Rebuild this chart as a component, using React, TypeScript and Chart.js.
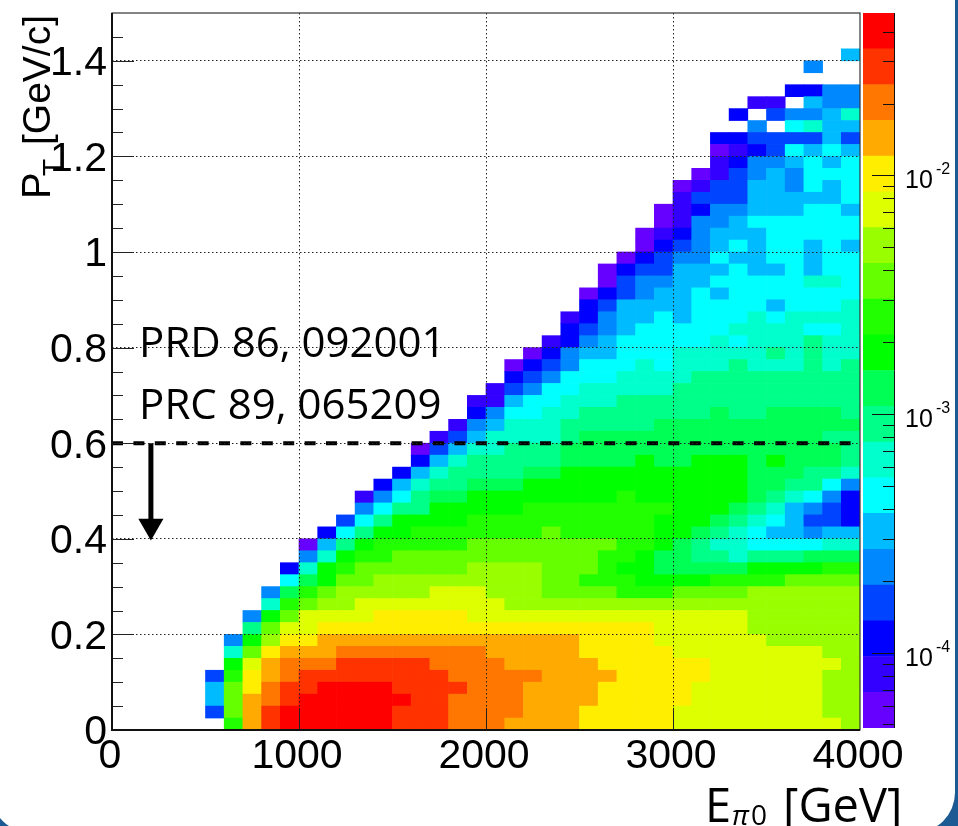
import React, { useEffect, useRef } from "react";
import { Chart, registerables } from "chart.js";

Chart.register(...registerables);

// Energy bins (GeV, lower edge), 100 GeV wide
const energyBins: number[] = [
  0, 100, 200, 300, 400, 500, 600, 700, 800, 900, 1000, 1100, 1200, 1300, 1400, 1500, 1600, 1700, 1800, 1900,
  2000, 2100, 2200, 2300, 2400, 2500, 2600, 2700, 2800, 2900, 3000, 3100, 3200, 3300, 3400, 3500, 3600, 3700, 3800, 3900,
];
const energyBinWidth = 100;
const ptBinWidth = 0.025;

// Contour level per cell: a (lowest) .. t (highest), "." = empty. First row is PT = 0.
const cellRows: string[] = [
  "......lqst tttttsssrr rqqqqppppp ooooooooon",
  ".....dmqst tttttsssrr rrqqqppppp oooooooonn",
  ".....fmqrs ttttttssrr rrqqqqpppp pooooooonn",
  ".....fmprs sttttssssr rrqqqqpppp pooooooonn",
  ".....dlpqr ssssssssrr rrrqqqqppp ppoooooonn",
  "......koqr rrsssssrrr rqqqqqpppp ppooooooon",
  "......hmpq qqrrrrrrrr qqqqqppppp oooooooonn",
  "......eknp pqqqqqqqqq qqqqqppppo ooooonnnnn",
  ".......imo oppppppppp pppppppppo oooonnnnnn",
  ".......ekm oooopppppo oooooooooo oooonnnnnn",
  "........hl mnnooooooo onnnnnnnnn nnnnnnnnnn",
  "........ej lmnnnnnooo nnnmmmmlll mmmmnnnnnn",
  ".........g jkmmnnnnnn nnnmmlllkk kkllllmmmm",
  ".........c hklmmmmmmn nnnmmmlkkj jjjjkkkkll",
  ".......... ehkllmmmmm mmmmmmllkj jiihiiijjj",
  ".......... afiklllllm mmmmmmmllk jihhgggghh",
  ".......... .cgikkllll lllmlllllk kjihgffeff",
  ".......... ..dgikkkkl lllllllllk kkjihgfddc",
  ".......... ...egiikkk kkllllllll kkkjihfedc",
  ".......... ...begijjk kkkkkkklkk kkkkjihgec",
  ".......... ....cfhiij jjkkkkkkkk kkkkjjiige",
  ".......... .....cfhii iijjkkkkkk kkkkjjjiih",
  ".......... ......cfhi iiiijjjjkj jkkkjkjjji",
  ".......... ......adfh hiiijjjjjj jjjjjjjjji",
  ".......... .......bdf hhhhijjjjj jjjjjjjjii",
  ".......... ........be fhhhiiiiij jjjjjjjjjj",
  ".......... .........c egghhiiiii iijiijjjji",
  ".......... .........b bfgghhhiii iiiiiiiiii",
  ".......... .......... bdegghhhhh iiiiiiiiii",
  ".......... .......... .cdeggghhh hiiiiiiiii",
  ".......... .......... .acdeggghg hhhihhhihi",
  ".......... .......... ..aceffggg hhhhhihihh",
  ".......... .......... ...bcefggg gghghhhihh",
  ".......... .......... ....cdefgg ggghhhhggh",
  ".......... .......... ....bceffg fggghghhhh",
  ".......... .......... .....cdfff fggggfgggh",
  ".......... .......... .....acdef fgfggggggg",
  ".......... .......... ......adee ffggggghhg",
  ".......... .......... ......acdd fffgffgfgg",
  ".......... .......... .......acd eegffggfgg",
  ".......... .......... ........ac defgfggfgf",
  ".......... .......... ........ab cefffggggg",
  ".......... .......... .........a beefgggggg",
  ".......... .......... .........a bceefffggf",
  ".......... .......... .......... bdddfffffg",
  ".......... .......... .......... abddffegfg",
  ".......... .......... .......... .abdefeggg",
  ".......... .......... .......... ..bceefgfg",
  ".......... .......... .......... ..abcdgfgf",
  ".......... .......... .......... ..ccddddfd",
  ".......... .......... .......... ....e.ghff",
  ".......... .......... .......... ...c.deefh",
  ".......... .......... .......... ....bb.fee",
  ".......... .......... .......... ......ccee",
  ".......... .......... .......... ..........",
  ".......... .......... .......... .......e..",
  ".......... .......... .......... .........f",
  ".......... .......... .......... ..........",
  ".......... .......... .......... ..........",
  ".......... .......... .......... ..........",
];

const levelKeys = "abcdefghijklmnopqrst";
const levelColors: string[] = [
  "#6600ff", "#3300ff", "#0000ff", "#0044ff", "#0088ff", "#00bbff", "#00ffff", "#00ffcc", "#00ff88", "#00ff55",
  "#00ff00", "#22ff00", "#66ff00", "#99ff00", "#ddff00", "#ffee00", "#ffaa00", "#ff7700", "#ff3300", "#ff0000",
];
const levelEdges: number[] = [
  4.83e-5, 6.82e-5, 9.63e-5, 1.36e-4, 1.92e-4, 2.71e-4, 3.83e-4, 5.4e-4, 7.63e-4, 1.077e-3, 1.521e-3,
  2.147e-3, 3.03e-3, 4.28e-3, 6.04e-3, 8.53e-3, 1.204e-2, 1.7e-2, 2.4e-2, 3.39e-2, 4.79e-2,
];

const yMinorTicks: number[] = [
  0.05, 0.1, 0.15, 0.25, 0.3, 0.35, 0.45, 0.5, 0.55, 0.65, 0.7, 0.75, 0.85, 0.9, 0.95, 1.05, 1.1, 1.15, 1.25, 1.3, 1.35, 1.45,
];
const yMajorTicks: number[] = [0.2, 0.4, 0.6, 0.8, 1, 1.2, 1.4];
const xMajorTicks: number[] = [1000, 2000, 3000];

const paletteMajorTicks: number[] = [1e-2, 1e-3, 1e-4];
const paletteExponents: string[] = ["-2", "-3", "-4"];
const paletteMinorTicks: number[] = [
  4e-2, 3e-2, 2e-2, 9e-3, 8e-3, 7e-3, 6e-3, 5e-3, 4e-3, 3e-3, 2e-3, 9e-4, 8e-4, 7e-4, 6e-4, 5e-4, 4e-4, 3e-4, 2e-4, 9e-5, 8e-5, 7e-5, 6e-5, 5e-5,
];

const cutValues = { pt: 0.6, xFrom: 0, xTo: 4000 };
const arrowX = 208;
const arrowShaftEnd = 0.44;
const arrowHeadCentre = 0.427;
const referenceLines: string[] = ["PRD 86, 092001", "PRC 89, 065209"];
const referenceBaselines: number[] = [0.78, 0.651];
const referenceX = 145;

const SANS = '"Liberation Sans", Arial, sans-serif';
const NOTE = '"Open Sans", sans-serif';
const BLUE = "#1c5a94";

const mainPlugin = {
  id: "mainDecor",
  beforeDraw(chart: any) {
    const c = chart.ctx;
    c.save();
    c.fillStyle = BLUE;
    c.beginPath();
    c.rect(0, 0, 958, 826);
    c.roundRect(-9, -60, 964, 892.6, 40);
    c.fill("evenodd");
    c.restore();
  },
  afterDraw(chart: any) {
    const c = chart.ctx;
    const { x, y } = chart.scales;
    const a = chart.chartArea;
    c.save();
    c.strokeStyle = "#222";
    c.lineWidth = 1;
    c.beginPath();
    yMinorTicks.forEach((v) => {
      const p = Math.round(y.getPixelForValue(v)) + 0.5;
      c.moveTo(a.left, p);
      c.lineTo(a.left + 11, p);
    });
    yMajorTicks.forEach((v) => {
      const p = Math.round(y.getPixelForValue(v)) + 0.5;
      c.moveTo(a.left, p);
      c.lineTo(a.left + 22, p);
    });
    xMajorTicks.forEach((v) => {
      const p = Math.round(x.getPixelForValue(v)) + 0.5;
      c.moveTo(p, a.bottom);
      c.lineTo(p, a.bottom - 22);
    });
    c.stroke();

    c.strokeStyle = "#333";
    c.lineWidth = 1.2;
    c.strokeRect(a.left, a.top, a.right - a.left, a.bottom - a.top);
    c.strokeStyle = "#111";
    c.lineWidth = 2;
    c.beginPath();
    c.moveTo(a.left, a.top);
    c.lineTo(a.left, a.bottom);
    c.lineTo(a.right, a.bottom);
    c.stroke();

    c.fillStyle = "#000";
    c.textAlign = "left";
    c.textBaseline = "alphabetic";

    c.font = `42px ${NOTE}`;
    referenceLines.forEach((t, i) => {
      c.fillText(t, x.getPixelForValue(referenceX), y.getPixelForValue(referenceBaselines[i]));
    });

    c.font = `47px ${NOTE}`;
    c.fillText("E", 705, 822);
    c.fillText("[GeV]", 783, 822);
    c.font = `italic 28px ${NOTE}`;
    c.fillText("π", 732, 825);
    c.font = `28px ${NOTE}`;
    c.fillText("0", 751, 825);

    c.save();
    c.translate(50, 199);
    c.rotate(-Math.PI / 2);
    c.font = `40px ${SANS}`;
    c.fillText("P", 0, 0);
    c.font = `39px ${SANS}`;
    c.fillText("[GeV/c]", 54, 0);
    c.font = `28px ${SANS}`;
    c.fillText("T", 23, 12);
    c.restore();
    c.restore();
  },
};

const palettePlugin = {
  id: "paletteDecor",
  afterDraw(chart: any) {
    const c = chart.ctx;
    const y = chart.scales.y;
    const a = chart.chartArea;
    c.save();
    c.strokeStyle = "#111";
    c.lineWidth = 1;
    c.beginPath();
    c.moveTo(a.right + 0.5, a.top);
    c.lineTo(a.right + 0.5, a.bottom);
    paletteMajorTicks.forEach((v) => {
      const p = Math.round(y.getPixelForValue(v)) + 0.5;
      c.moveTo(a.right, p);
      c.lineTo(a.right - 22, p);
    });
    paletteMinorTicks.forEach((v) => {
      const p = Math.round(y.getPixelForValue(v)) + 0.5;
      c.moveTo(a.right, p);
      c.lineTo(a.right - 11, p);
    });
    c.stroke();
    c.fillStyle = "#000";
    c.textBaseline = "alphabetic";
    paletteMajorTicks.forEach((v, i) => {
      const p = y.getPixelForValue(v);
      c.font = `25px ${SANS}`;
      c.fillText("10", a.right + 11, p + 13);
      c.font = `16px ${SANS}`;
      c.fillText(paletteExponents[i], a.right + 42, p - 1);
    });
    c.restore();
  },
};

export default function App() {
  const mainRef = useRef<HTMLCanvasElement | null>(null);
  const paletteRef = useRef<HTMLCanvasElement | null>(null);

  useEffect(() => {
    const cellDatasets: any[] = cellRows.map((row) => {
      const cells = row.replace(/ /g, "");
      return {
        type: "bar",
        xAxisID: "x",
        yAxisID: "y",
        stack: "cells",
        order: 1,
        data: energyBins.map((e) => ({ x: e + energyBinWidth / 2, y: ptBinWidth })),
        backgroundColor: energyBins.map((_, i) => {
          const k = levelKeys.indexOf(cells[i]);
          return k < 0 ? "rgba(0,0,0,0)" : levelColors[k];
        }),
        borderWidth: 0,
        barPercentage: 1,
        categoryPercentage: 1,
      };
    });

    const lineDatasets: any[] = [
      {
        type: "line",
        xAxisID: "x",
        yAxisID: "y",
        order: -1,
        data: [
          { x: cutValues.xFrom, y: cutValues.pt },
          { x: cutValues.xTo, y: cutValues.pt },
        ],
        borderColor: "#000",
        borderWidth: 4,
        borderDash: [11, 10.4],
        pointRadius: 0,
        tension: 0,
      },
      {
        type: "line",
        xAxisID: "x",
        yAxisID: "y",
        order: -1,
        data: [
          { x: arrowX, y: cutValues.pt },
          { x: arrowX, y: arrowShaftEnd },
        ],
        borderColor: "#000",
        borderWidth: 5,
        pointRadius: 0,
        tension: 0,
      },
      {
        type: "line",
        xAxisID: "x",
        yAxisID: "y",
        order: -1,
        showLine: false,
        data: [{ x: arrowX, y: arrowHeadCentre }],
        pointStyle: "triangle",
        rotation: 180,
        pointRadius: 14.5,
        pointBackgroundColor: "#000",
        pointBorderWidth: 0,
      },
    ];

    const main = new Chart(mainRef.current as HTMLCanvasElement, {
      type: "bar",
      data: { datasets: [...cellDatasets, ...lineDatasets] },
      options: {
        animation: false,
        responsive: false,
        events: [],
        layout: { autoPadding: false, padding: { top: 13, right: 98, left: 0, bottom: 0 } },
        plugins: { legend: { display: false }, tooltip: { enabled: false } },
        scales: {
          x: {
            type: "linear",
            position: "bottom",
            min: 0,
            max: 4000,
            offset: false,
            afterFit: (s: any) => {
              s.height = 96;
              s.paddingLeft = 0;
              s.paddingRight = 0;
            },
            ticks: {
              stepSize: 1000,
              includeBounds: false,
              maxRotation: 0,
              autoSkip: false,
              padding: 2,
              labelOffset: -2,
              color: "#000",
              font: { family: SANS, size: 41 },
              callback: (v: any) => String(v),
            },
            grid: {
              z: 1,
              offset: false,
              drawTicks: false,
              lineWidth: 1,
              color: (ctx: any) => (ctx.tick && (ctx.tick.value === 0 || ctx.tick.value === 4000) ? "rgba(0,0,0,0)" : "#222"),
            },
            border: { display: false, dash: [1.5, 2.5] },
          },
          y: {
            type: "linear",
            min: 0,
            max: 1.5,
            afterFit: (s: any) => {
              s.width = 112;
              s.paddingTop = 0;
              s.paddingBottom = 0;
            },
            ticks: {
              stepSize: 0.2,
              includeBounds: false,
              autoSkip: false,
              padding: 5,
              labelOffset: 3,
              color: "#000",
              font: { family: SANS, size: 41 },
              callback: (v: any) => String(+Number(v).toFixed(1)),
            },
            grid: {
              z: 1,
              drawTicks: false,
              lineWidth: 1,
              color: (ctx: any) => (ctx.tick && ctx.tick.value === 0 ? "rgba(0,0,0,0)" : "#222"),
            },
            border: { display: false, dash: [1.5, 2.5] },
          },
        },
      } as any,
      plugins: [mainPlugin],
    } as any);

    const palette = new Chart(paletteRef.current as HTMLCanvasElement, {
      type: "bar",
      data: {
        labels: ["z"],
        datasets: levelColors.map((color, i) => ({
          data: [[levelEdges[i], levelEdges[i + 1]]],
          backgroundColor: color,
          borderWidth: 0,
          barPercentage: 1,
          categoryPercentage: 1,
          grouped: false,
        })) as any,
      },
      options: {
        animation: false,
        responsive: false,
        events: [],
        layout: { autoPadding: false, padding: { top: 13, right: 64, left: 3, bottom: 98 } },
        plugins: { legend: { display: false }, tooltip: { enabled: false } },
        scales: {
          x: { type: "category", display: false },
          y: { type: "logarithmic", display: false, min: levelEdges[0], max: levelEdges[20] },
        },
      } as any,
      plugins: [palettePlugin],
    } as any);

    return () => {
      main.destroy();
      palette.destroy();
    };
  }, []);

  return (
    <div style={{ position: "absolute", left: 0, top: 0, width: 958, height: 826, overflow: "hidden", background: "#fff" }}>
      <canvas ref={mainRef} width={958} height={826} style={{ position: "absolute", left: 0, top: 0 }} />
      <canvas ref={paletteRef} width={98} height={826} style={{ position: "absolute", left: 860, top: 0 }} />
    </div>
  );
}
